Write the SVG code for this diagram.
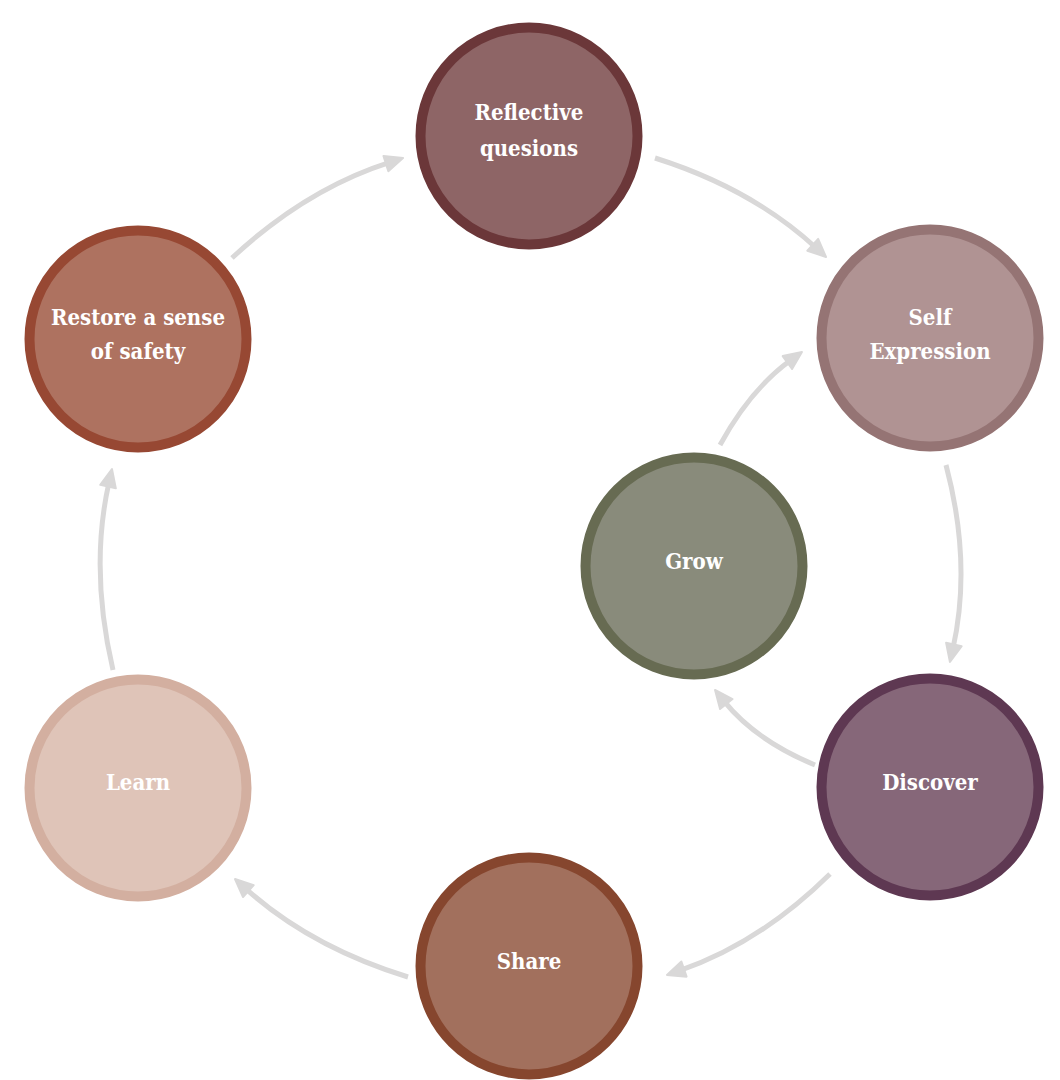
<svg xmlns="http://www.w3.org/2000/svg" width="1060" height="1080" viewBox="0 0 1060 1080">
<style>
.node circle{stroke-width:10}
.node text{font-family:"DejaVu Serif Condensed","DejaVu Serif",serif;font-weight:bold;font-size:22px;fill:#ffffff;text-anchor:middle}
.conn path{fill:none;stroke:#d9d8d8;stroke-width:5;marker-end:url(#arr)}
</style>
<defs>
<marker id="arr" markerUnits="userSpaceOnUse" viewBox="0 0 22 18" markerWidth="22" markerHeight="18" refX="5" refY="9" orient="auto" overflow="visible">
<path d="M1,1 L19,9 L1,17 Z" fill="#d9d8d8" stroke="#d9d8d8" stroke-width="2" stroke-linejoin="round"/>
</marker>
</defs>
<rect width="1060" height="1080" fill="#ffffff"/>
<g id="connectors" class="conn">
<path d="M232,258 Q306,189 389.7,162.3"/>
<path d="M655,158 Q751.5,188.5 815.7,247.5"/>
<path d="M946,465 Q972,563 953,648.3"/>
<path d="M830,874 Q760,943 680.2,970.4"/>
<path d="M408,977 Q310.7,947.1 245.4,888.4"/>
<path d="M113,670 Q89.5,569.5 108.9,482.7"/>
<path d="M815,765 Q755.4,740.3 723.8,700.9"/>
<path d="M720,445 Q750.5,389.2 790.6,360.2"/>
</g>
<g id="reflective" class="node">
<circle cx="529" cy="136" r="108.5" fill="#8e6566" stroke="#6b3739"/>
<text x="529" y="120">Reflective</text>
<text x="529" y="156">quesions</text>
</g>
<g id="self-expression" class="node">
<circle cx="930" cy="338" r="108.5" fill="#b09393" stroke="#957474"/>
<text x="930" y="325">Self</text>
<text x="930" y="359">Expression</text>
</g>
<g id="discover" class="node">
<circle cx="930" cy="787" r="108.5" fill="#866779" stroke="#5e3852"/>
<text x="930" y="790">Discover</text>
</g>
<g id="share" class="node">
<circle cx="529" cy="966" r="108.5" fill="#a2705d" stroke="#86462e"/>
<text x="529" y="969">Share</text>
</g>
<g id="learn" class="node">
<circle cx="138" cy="788" r="108.5" fill="#dfc4b8" stroke="#d3afa0"/>
<text x="138" y="790">Learn</text>
</g>
<g id="restore" class="node">
<circle cx="138" cy="339" r="108.5" fill="#ae7260" stroke="#974833"/>
<text x="138" y="325">Restore a sense</text>
<text x="138" y="359">of safety</text>
</g>
<g id="grow" class="node">
<circle cx="694" cy="566" r="108.5" fill="#898b7b" stroke="#676b52"/>
<text x="694" y="569">Grow</text>
</g>
</svg>
